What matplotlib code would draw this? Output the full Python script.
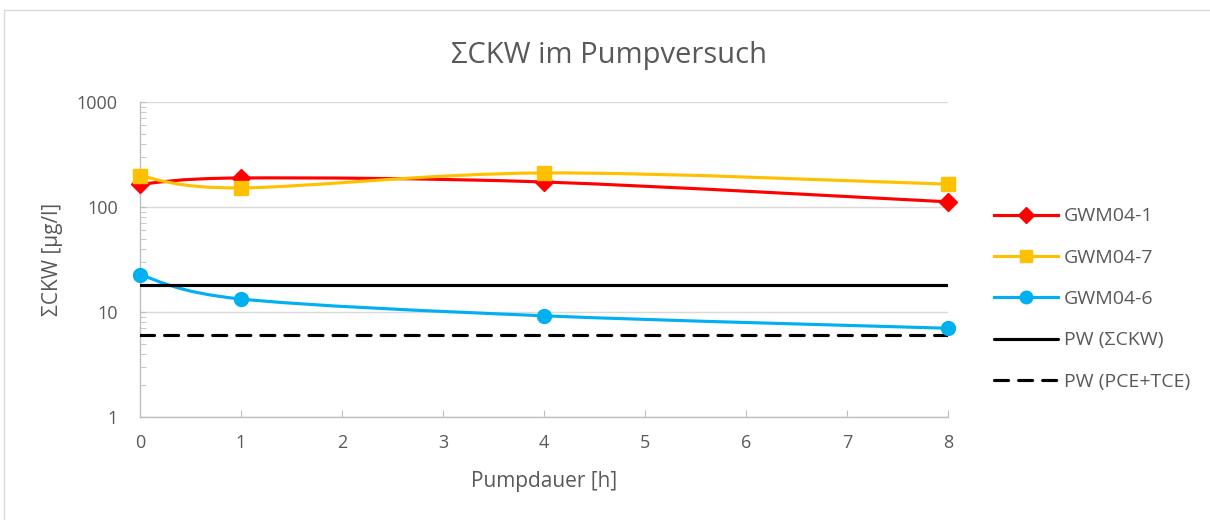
import numpy as np
import matplotlib
matplotlib.use('Agg')
import matplotlib.pyplot as plt
import matplotlib.patches as patches
from matplotlib.path import Path
from matplotlib.lines import Line2D

# data
hours = [0, 1, 4, 8]
gwm04_1 = [165, 189, 173, 112]
gwm04_7 = [197, 152, 211, 165]
gwm04_6 = [22.5, 13.3, 9.2, 7.0]
pw_ckw = [18, 18, 18, 18]
pw_pce_tce = [6, 6, 6, 6]

y_ticks = [1, 10, 100, 1000]
y_tick_labels = ['1', '10', '100', '1000']
x_ticks = [0, 1, 2, 3, 4, 5, 6, 7, 8]

TEXT_COLOR = '#595959'
FONT = ['Open Sans', 'DejaVu Sans']

plt.rcParams['font.family'] = FONT


def smooth_path(xs, ys):
    # excel-like smoothing: catmull-rom -> cubic bezier, done in (x, log y) space
    px = np.array(xs, dtype=float)
    py = np.log10(np.array(ys, dtype=float))
    n = len(px)
    verts = [(px[0], py[0])]
    codes = [Path.MOVETO]
    for i in range(n - 1):
        i0 = max(i - 1, 0)
        i3 = min(i + 2, n - 1)
        c1 = (px[i] + (px[i + 1] - px[i0]) / 6, py[i] + (py[i + 1] - py[i0]) / 6)
        c2 = (px[i + 1] - (px[i3] - px[i]) / 6, py[i + 1] - (py[i3] - py[i]) / 6)
        verts += [c1, c2, (px[i + 1], py[i + 1])]
        codes += [Path.CURVE4] * 3
    verts = [(x, 10 ** y) for x, y in verts]
    return Path(verts, codes)


fig = plt.figure(figsize=(12.1, 5.2), dpi=100)
ax = fig.add_axes([140 / 1210, 1 - 417 / 520, 808 / 1210, 315 / 520])

# chart frame
frame = patches.Rectangle((4 / 1210, -0.01), 1.0, 1 - 10 / 520 + 0.01, transform=fig.transFigure,
                          fill=False, edgecolor='#D9D9D9', linewidth=1.0)
fig.patches.append(frame)

series = [
    ('GWM04-1', gwm04_1, '#FF0000', 'D', 9),
    ('GWM04-7', gwm04_7, '#FFC000', 's', 10),
    ('GWM04-6', gwm04_6, '#00B0F0', 'o', 10),
]

handles = []
for label, values, color, marker, ms in series:
    patch = patches.PathPatch(smooth_path(hours, values), fill=False, edgecolor=color,
                              linewidth=2.25, capstyle='round', zorder=3)
    ax.add_patch(patch)
    ax.plot(hours, values, linestyle='none', marker=marker, markersize=ms,
            color=color, clip_on=False, zorder=4)
    handles.append(Line2D([], [], color=color, linewidth=2.25, marker=marker, markersize=ms - 1))

ax.plot(hours, pw_ckw, color='black', linewidth=2.25, solid_capstyle='round', zorder=3)
ax.plot(hours, pw_pce_tce, color='black', linewidth=2.25, dashes=(4.5, 3.2),
        dash_capstyle='round', zorder=3)
handles.append(Line2D([], [], color='black', linewidth=2.25, solid_capstyle='round'))
handles.append(Line2D([], [], color='black', linewidth=2.25, dashes=(4.5, 3.2),
                      dash_capstyle='round'))

labels = ['GWM04-1', 'GWM04-7', 'GWM04-6', 'PW (ΣCKW)', 'PW (PCE+TCE)']

ax.set_yscale('log')
ax.set_xlim(0, 8)
ax.set_ylim(1, 1000)
ax.set_xticks(x_ticks)
ax.set_yticks(y_ticks)
ax.set_yticklabels(y_tick_labels)

ax.grid(True, which='major', axis='y', color='#D9D9D9', linewidth=1.0)
ax.set_axisbelow(True)
for side in ['top', 'right']:
    ax.spines[side].set_visible(False)
for side in ['left', 'bottom']:
    ax.spines[side].set_color('#BFBFBF')
    ax.spines[side].set_linewidth(1.0)

ax.tick_params(axis='x', direction='in', length=5, color='#BFBFBF', labelsize=13,
               labelcolor=TEXT_COLOR, pad=12)
ax.tick_params(axis='y', which='major', direction='in', length=4, color='#BFBFBF',
               labelsize=13, labelcolor=TEXT_COLOR, pad=16)
ax.tick_params(axis='y', which='minor', direction='in', length=4, color='#BFBFBF')

ax.set_xlabel('Pumpdauer [h]', fontsize=15, color=TEXT_COLOR, labelpad=14)
ax.set_ylabel('ΣCKW [µg/l]', fontsize=15, color=TEXT_COLOR, labelpad=10)

fig.text(0.503, 1 - 55 / 520, 'ΣCKW im Pumpversuch', ha='center', va='center',
         fontsize=21, color=TEXT_COLOR)

fig.legend(handles, labels, loc='center left', bbox_to_anchor=(976 / 1210, 1 - 299 / 520),
           frameon=False, fontsize=14, labelcolor=TEXT_COLOR, handlelength=3.3,
           handletextpad=0.3, labelspacing=1.2)

fig.savefig('out.png', dpi=100)
